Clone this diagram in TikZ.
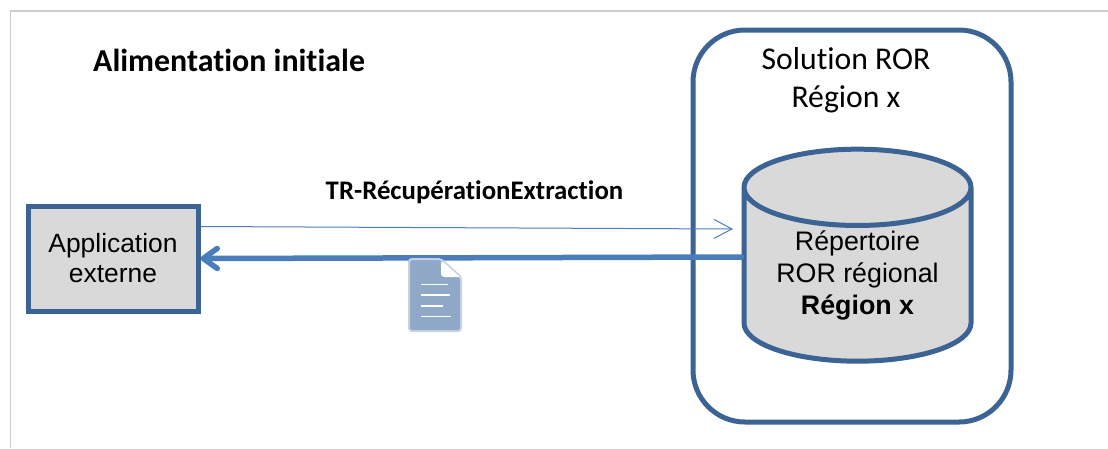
\documentclass[tikz,border=0pt]{standalone}
\usepackage{fontspec}
\setmainfont[Ligatures=NoCommon]{Carlito}
\newfontfamily\arialfont{Liberation Sans}
\usetikzlibrary{arrows.meta,shapes.geometric}
\definecolor{boxblue}{HTML}{3B6494}
\definecolor{arrowblue}{HTML}{4A7EBB}
\definecolor{boxgrey}{HTML}{D9D9D9}
\definecolor{docblue}{HTML}{8FA8C8}
\definecolor{docedge}{HTML}{C3D1E3}
\definecolor{framegrey}{HTML}{CCCCCC}
\begin{document}
\begin{tikzpicture}[x=1pt,y=-1pt,
    blueline/.style={draw=boxblue, line width=5pt},
    thinarrow/.style={draw=arrowblue, line width=1pt, -{Straight Barb[length=18pt,width=19pt]}},
    thickarrow/.style={draw=arrowblue, line width=5.5pt, line cap=round, -{Straight Barb[length=14pt,width=20pt,round]}},
    doclines/.style={draw=white, line width=1.8pt}]
\useasboundingbox (0,0) rectangle (1108,448);
% page frame
\draw[framegrey, line width=1.5pt] (10.5,448) -- (10.5,11) -- (1108,11);
\node[anchor=west, font=\fontsize{31.9}{38}\selectfont\bfseries, inner sep=0] (title) at (93,60){Alimentation initiale};
% solution box
\node[blueline, rounded corners=52pt, minimum width=318pt, minimum height=392pt, inner sep=0, fill=white] (solution) at (852,226){};
\node[align=center, font=\fontsize{31.7}{38}\selectfont, inner sep=0] (solutionlabel) at (846,80){Solution ROR\\Région x};
% shapes
\node[blueline, fill=boxgrey, minimum width=170pt, minimum height=105pt, inner sep=0, align=center,
  font=\arialfont\fontsize{26.4}{30}\selectfont] (app) at (113,258.5){Application\\externe};
\node[blueline, fill=boxgrey, shape=cylinder, shape border rotate=90, shape aspect=0.47, minimum width=227pt, minimum height=212pt, inner sep=0, align=center,
  font=\arialfont\fontsize{26.8}{32}\selectfont] (ror) at (857.5,275.5){Répertoire\\ROR régional\\\textbf{Région x}};
% exchanges
\node[font=\fontsize{26.8}{30}\selectfont\bfseries, inner sep=0] (flowlabel) at (474.5,192){TR-RécupérationExtraction};
\coordinate (flowend) at (733,229);
\draw[thinarrow] ([yshift=32pt]app.east) -- (flowend);
\draw[thickarrow] ([yshift=18.5pt]ror.west) -- (app.east);
% document icon
\fill[docblue, draw=docedge, line width=2pt, rounded corners=3pt] (409,259) -- (441,259) -- (461,277) -- (461,331) -- (409,331) -- cycle;
\fill[white] (441,260) -- (460,277) -- (447,277) [rounded corners=3pt] -- (441,277) -- cycle;
\draw[doclines] (421,284.5) -- (448,284.5);
\draw[doclines] (421,295) -- (450,295);
\draw[doclines] (421,306) -- (443,306);
\draw[doclines] (421,316.5) -- (451,316.5);
\end{tikzpicture}
\end{document}
